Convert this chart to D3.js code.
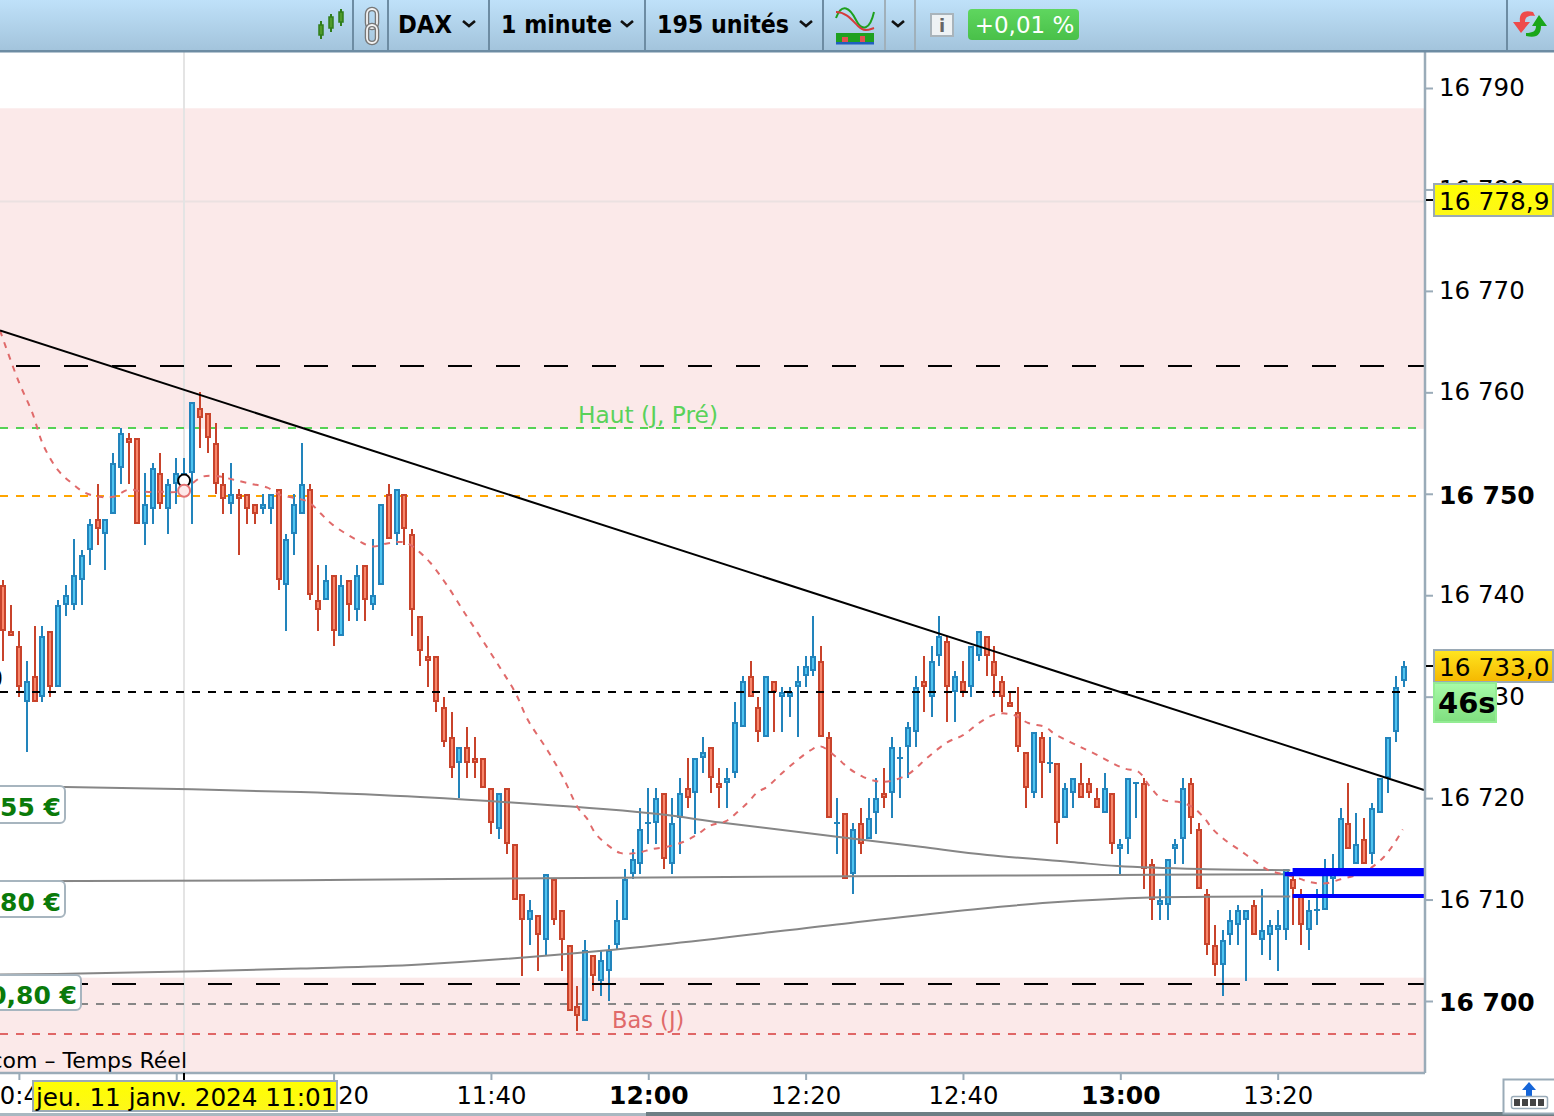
<!DOCTYPE html>
<html><head><meta charset="utf-8">
<script src="https://cdnjs.cloudflare.com/ajax/libs/d3/7.8.5/d3.min.js"></script>
<style>html,body{margin:0;padding:0;background:#fff;overflow:hidden}svg{display:block}text{font-family:"DejaVu Sans",sans-serif}</style>
</head><body><svg id="c" width="1554" height="1116"></svg>
<script>
// minutes relative to 12:00, one candle per minute
const firstMinute = -82;
const opens = [16741,16736.5,16735,16729.5,16732,16730,16736.5,16731,16739,16739,
16741.5,16744.5,16747.5,16746,16748,16752.5,16755.5,16755.5,16747,16748.5,
16752,16748.5,16751,16751,16752,16758.5,16758,16755,16751,16749,
16750,16750,16749,16748.5,16748.5,16750.5,16741,16746,16748,16750.5,
16739.5,16739.5,16742,16736,16741.5,16738.5,16743,16739,16741,16750,
16746,16750,16746,16738,16734,16734,16729,16726,16723.5,16725,
16724,16724,16721,16717,16721,16715.5,16710.5,16708,16708.5,16706,
16712,16709,16705.5,16699.5,16698,16704.5,16702,16703,16705.5,16708,
16712.5,16713.5,16717.5,16717.5,16720.5,16713.5,16718,16721,16720.5,16724,
16725,16721.5,16721.5,16722.5,16727,16732,16729,16726,16731.5,16730,
16730,16731,16732,16732.5,16733.5,16726,16717.5,16718.5,16712.5,16717.5,
16716,16718.5,16720.5,16720.5,16724,16725,16726.5,16731.5,16730,16734,
16735.5,16730.5,16731.5,16731,16734,16736,16733.5,16731.5,16729.5,16728.5,
16724.5,16720.5,16726,16723.5,16723.5,16718,16720.5,16721.5,16721.5,16720,
16718.5,16720.5,16715,16716,16721.5,16721.5,16713.5,16709.5,16709.5,16715,
16716,16721.5,16717,16710.5,16705.5,16703.5,16706.5,16707.5,16708,16709.5,
16706,16706.5,16707,16707,16712,16710.5,16707,16709,16709,16712,
16712.5,16717.5,16713.5,16716,16714.5,16718.5,16722,16726.5,16731.5];
const closes = [16736.5,16736,16731,16731.5,16729.5,16736,16731,16739,16740,16742,
16744,16747,16746.5,16747.5,16753,16756,16755,16747,16749,16752.5,
16749,16751,16752,16752,16759,16757.5,16755.5,16751,16749.5,16750,
16749.5,16748.5,16748,16749,16750,16741.5,16745.5,16749,16751,16740,
16738.5,16741.5,16736.5,16741,16739,16742,16739.5,16740,16749,16745.5,
16750.5,16746.5,16738.5,16734.5,16733.5,16729.5,16725.5,16723,16725,16723.5,
16723.5,16721,16717.5,16720.5,16715.5,16710,16708,16709,16706.5,16712.5,
16708,16706,16699,16698.5,16705,16702.5,16704,16705,16708,16712,
16714,16717,16717.5,16720,16714,16717.5,16720.5,16720,16724,16724.5,
16722,16721,16722,16727.5,16731.5,16730,16726.5,16732,16730.5,16730.5,
16730.5,16731.5,16733,16734,16726,16718,16717.5,16712,16717,16715.5,
16718,16720,16720,16725,16724,16727,16731,16731,16733.5,16736,
16731,16732,16730.5,16735,16736.5,16734,16732,16730,16729,16725,
16721,16726.5,16723.5,16723.5,16717.5,16721,16722,16720,16720.5,16719,
16721,16715.5,16715.5,16722,16721.5,16713,16710,16710,16714,16715.5,
16721,16718,16711,16705.5,16703.5,16706,16708,16709,16709,16706.5,
16707,16707.5,16707.5,16713,16711,16707.5,16709,16709,16712.5,16712.5,
16718,16715,16715.5,16713.5,16719,16722,16726,16731,16733];
const highs = [16741.5,16739,16736.5,16733.5,16737,16737,16736.5,16739.5,16741,16745.5,
16744.5,16747.5,16751,16747.5,16754,16756.5,16756,16755.5,16752,16753,
16754,16751.5,16753.5,16753.5,16759,16760,16758,16757,16752,16753,
16750.5,16750,16749,16750,16750,16750.5,16746,16750,16755,16751,
16743,16743,16742,16742,16741.5,16743,16743,16745.5,16749,16751,
16750.5,16750,16746.5,16738,16736,16734,16730,16728.5,16725,16727,
16726,16724,16721,16720.5,16721,16715.5,16710.5,16710,16708.5,16712.5,
16712,16709,16705.5,16701.5,16706,16704.5,16705,16705.5,16710,16713,
16715,16719,16721,16721,16720.5,16720,16722,16724,16724,16726,
16725,16723,16723,16729.5,16732,16733.5,16730,16732,16731.5,16731,
16731,16733,16734,16738,16735,16726.5,16720,16718.5,16717.5,16719,
16720,16722,16723,16726,16725,16727.5,16732,16734,16735,16738,
16736,16732.5,16733.5,16735,16736.5,16736,16735,16732,16730.5,16731,
16724.5,16726.5,16726.5,16726,16723.5,16721.5,16722,16723.5,16722,16721,
16722.5,16720.5,16716,16722,16721.5,16722,16714,16711,16714,16716,
16722,16722,16717.5,16711,16707.5,16707,16709,16709.5,16709,16710,
16711,16708,16709,16713,16712.5,16711,16710,16711,16714,16714.5,
16719,16721.5,16718.5,16718,16719.5,16722,16726,16732,16733.5];
const lows = [16733.5,16736,16730,16724.5,16729.5,16729.5,16730,16731,16738,16738.5,
16739,16743,16745,16742.5,16748,16751,16751,16747,16745,16747,
16748.5,16746,16749,16750,16747,16754.5,16754,16750,16748,16748,
16744,16747,16747,16748,16747,16740.5,16736.5,16744,16748,16739.5,
16736.5,16739.5,16735,16736,16737.5,16737.5,16737.5,16738.5,16741,16745.5,
16745,16745,16736,16733,16731,16728.5,16725,16722,16720,16722,
16722,16721,16716.5,16716,16714.5,16710,16702.5,16705.5,16703,16704.5,
16707.5,16703,16699,16697,16698,16701,16700.5,16700,16705,16708,
16712,16712.5,16715.5,16715.5,16713,16712.5,16714.5,16719,16716.5,16722.5,
16720.5,16719,16719,16722,16727,16730,16725.5,16726,16726.5,16726.5,
16728,16726,16731,16732,16726,16718,16714.5,16712,16710.5,16714.5,
16716,16716.5,16719,16718,16720,16722,16725,16728.5,16728,16733,
16727.5,16727.5,16730,16730,16733.5,16732,16730,16728.5,16729,16724.5,
16719,16720,16720,16722.5,16715.5,16718,16719,16720,16720,16719,
16718.5,16714.5,16712.5,16714.5,16718,16711,16708,16708,16708,16713.5,
16713.5,16716.5,16711,16704.5,16702.5,16700.5,16705.5,16705.5,16702,16706.5,
16704.5,16704,16703,16706,16707.5,16705.5,16705,16707.5,16709,16710.5,
16712.5,16715,16713.5,16713.5,16713.5,16718.5,16720.5,16725.5,16731];

// dashed red moving average (minute, price)
const maMinutes = [-82.4,-80.1,-78.3,-76.9,-75,-73.2,-71.6,-69.7,-68,-66.1,-64.2,-62,-59.9,-58.2,-56.6,-54.4,-52.8,-50.6,-48.4,-46.8,-45.1,-43.2,-41.7,-40.2,-38.5,-36.9,-35.1,-33.2,-30.9,-29,-27.7,-25.6,-23.3,-21.1,-18.8,-16.9,-15.3,-12.8,-10.8,-8.9,-7.8,-6.7,-5.2,-3.6,-1.4,0.6,2.4,4.5,6.2,7.9,9.8,11.3,12.7,13.9,15.1,17.2,20.6,21.9,23.8,25.4,27.3,29.9,32.9,35.5,38,40,42.2,44.3,46.4,48.3,50.5,51.5,53.7,55.3,57.2,59.1,60.6,62.3,63.8,65.5,67.6,69.2,70.6,71.8,73.6,75.3,76.9,78.8,80.7,82.3,84.2,86.1,88,90.3,92,93.5,94.7,95.9];
const maValues = [16766.1,16761.2,16758,16754.8,16752.3,16751,16750.1,16749.7,16749.7,16750.4,16750.2,16750.2,16750.2,16750.9,16751.7,16751.7,16751.4,16751,16750.6,16749.9,16749.6,16749.2,16748.1,16747,16746.1,16745.4,16744.8,16745.1,16745.2,16744.2,16743.2,16741,16738.2,16735.6,16732.8,16730.4,16727.7,16724.7,16722,16719,16718,16716.5,16715.4,16714.6,16714.6,16715,16715.2,16715.7,16716.4,16717.3,16717.7,16718.6,16719.6,16720.6,16721.1,16722.6,16724.7,16725.1,16724.1,16723,16722.1,16721.6,16722.3,16724,16725.5,16726.2,16727.5,16728.3,16728.2,16727.4,16727,16726.4,16725.5,16724.9,16724.2,16723.4,16722.9,16722.6,16721.1,16719.8,16719.6,16719.1,16718.1,16716.9,16715.7,16714.8,16713.9,16712.9,16712.5,16712.2,16711.7,16711.6,16712,16712.5,16713.2,16714.2,16715.4,16716.9];

// black trend line
const trendMinutes = [-82.4, 98.6];
const trendValues = [16766.1, 16720.8];

// three grey curves
const greyAMinutes = [-82.4,-74.1,-44.2,-29,0.3,9.2,24,34.6,43.1,53.7,59.6,70.2,81.6];
const greyAValues = [16721.2,16721.1,16720.6,16720.1,16718.5,16717.6,16716.2,16715.2,16714.4,16713.7,16713.3,16713,16712.9];
const greyBMinutes = [-82.4,-44.2,-29,25.7,53.7,80.7];
const greyBValues = [16711.8,16711.9,16712,16712.3,16712.4,16712.5];
const greyCMinutes = [-82.4,-72.2,-44.2,-29,-5.2,25.7,42.2,51.1,63.8,81.6];
const greyCValues = [16702.6,16702.7,16703.2,16703.6,16705,16707.7,16709.1,16709.7,16710.2,16710.3];

// blue level extensions
const blueLevels = [{p:16712.9,m:81.9},{p:16712.5,m:80.9},{p:16710.35,m:81.9}];

// horizontal levels
const shortDashLevels = [
 {p:16756.5,c:"#55d255"},{p:16749.8,c:"#ffa500"},{p:16730.5,c:"#000"},{p:16699.7,c:"#868686"},{p:16696.7,c:"#e06666"}];
const longDashLevels = [16762.6,16701.7];
const crossPrice = 16778.9;
const zoneA = [16756.4,16788];
const zoneB = [16691.8,16702.3];

const yTicks = [16790,16780,16770,16760,16750,16740,16730,16720,16710,16700];
const yBold = [16750,16700];
const xTicks = [-80,-60,-40,-20,0,20,40,60,80];
const xTickLabels = ["10:40","11:00","11:20","11:40","12:00","12:20","12:40","13:00","13:20"];
const xBold = [0,60];
const crossMinute = -59;
const crossBlack = 16751.3, crossRed = 16750.3;

const svg = d3.select("#c");
const W=1554,H=1116,axX=1425,axY=1073;
const x = d3.scaleLinear().domain([-82.4,98.6]).range([0,1424]);
const y = d3.scaleLinear().domain([16700,16790]).range([1001,88]);
const defs = svg.append("defs");
function grad(id,stops){const g=defs.append("linearGradient").attr("id",id).attr("x1",0).attr("x2",0).attr("y1",0).attr("y2",1);
 stops.forEach(([o,c])=>g.append("stop").attr("offset",o).attr("stop-color",c));}
grad("tb",[[0,"#bfe1f9"],[1,"#a3c4dc"]]);
grad("yel",[[0,"#ffff00"],[1,"#fdf71a"]]);
grad("ora",[[0,"#ffe620"],[1,"#f5b700"]]);
grad("grn",[[0,"#a8fba8"],[1,"#7fde7f"]]);
grad("badge",[[0,"#5fd65f"],[1,"#49c049"]]);
defs.append("clipPath").attr("id","plot").append("rect").attr("x",0).attr("y",52).attr("width",axX).attr("height",axY-52);

svg.append("rect").attr("width",W).attr("height",H).attr("fill","#fff");
const plot = svg.append("g").attr("clip-path","url(#plot)");
// zones
[zoneA,zoneB].forEach(z=>plot.append("rect").attr("x",0).attr("width",axX).attr("y",y(z[1])).attr("height",y(z[0])-y(z[1])).attr("fill","#fbe9e9"));
plot.append("line").attr("x1",0).attr("x2",axX).attr("y1",y(crossPrice)+1).attr("y2",y(crossPrice)+1).attr("stroke","#ebe1e1").attr("stroke-width",2);
plot.append("line").attr("x1",184).attr("x2",184).attr("y1",52).attr("y2",axY).attr("stroke","#e4e4e4").attr("stroke-width",2);

// levels behind candles
shortDashLevels.forEach(l=>{ if(l.c!=="#000") plot.append("line").attr("x1",0).attr("x2",axX).attr("y1",Math.round(y(l.p))).attr("y2",Math.round(y(l.p))).attr("stroke",l.c).attr("stroke-width",2).attr("stroke-dasharray","8 8");});

// candles
const candles = opens.map((o,i)=>({t:firstMinute+i,o,c:closes[i],h:highs[i],l:lows[i]}));
const up = d=>d.c>=d.o;
const g = plot.append("g");
g.selectAll("line.w").data(candles).join("line").attr("class","w")
 .attr("x1",d=>Math.round(x(d.t))).attr("x2",d=>Math.round(x(d.t)))
 .attr("y1",d=>Math.round(y(d.h))).attr("y2",d=>Math.round(y(d.l)))
 .attr("stroke",d=>up(d)?"#2284bc":"#c8432b").attr("stroke-width",2);
g.selectAll("rect.b").data(candles).join("rect").attr("class","b")
 .attr("x",d=>Math.round(x(d.t))-(d.o===d.c?3:2))
 .attr("width",d=>d.o===d.c?6:4)
 .attr("y",d=>d.o===d.c?Math.round(y(d.o))-1:Math.round(y(Math.max(d.o,d.c)))+1)
 .attr("height",d=>d.o===d.c?2:Math.max(1,Math.round(y(Math.min(d.o,d.c)))-Math.round(y(Math.max(d.o,d.c)))-2))
 .attr("fill",d=>d.o===d.c?"#2284bc":(up(d)?"#4fc4f0":"#f8866a"))
 .attr("stroke",d=>up(d)?"#2284bc":"#c8432b").attr("stroke-width",d=>d.o===d.c?0:2);

// black dashed level, long dashes
shortDashLevels.filter(l=>l.c==="#000").forEach(l=>plot.append("line").attr("x1",0).attr("x2",axX).attr("y1",Math.round(y(l.p))).attr("y2",Math.round(y(l.p))).attr("stroke","#000").attr("stroke-width",2).attr("stroke-dasharray","8 8"));
longDashLevels.forEach(p=>plot.append("line").attr("x1",16).attr("x2",axX).attr("y1",Math.round(y(p))).attr("y2",Math.round(y(p))).attr("stroke","#000").attr("stroke-width",2).attr("stroke-dasharray","24 24"));

// curves
const ln = d3.line().x(d=>x(d[0])).y(d=>y(d[1]));
const curve = (ms,vs,c,w,dash,cv)=>plot.append("path").attr("d",ln.curve(cv||d3.curveCatmullRom)(ms.map((m,i)=>[m,vs[i]]))).attr("fill","none").attr("stroke",c).attr("stroke-width",w).attr("stroke-dasharray",dash||null);
curve(greyAMinutes,greyAValues,"#868686",2);
curve(greyBMinutes,greyBValues,"#868686",2);
curve(greyCMinutes,greyCValues,"#868686",2);
curve(maMinutes,maValues,"#e06a6a",2,"6 6.5");
curve(trendMinutes,trendValues,"#000",2,null,d3.curveLinear);

// blue bars
blueLevels.forEach(b=>plot.append("line").attr("x1",x(b.m)).attr("x2",axX).attr("y1",y(b.p)).attr("y2",y(b.p)).attr("stroke","#0000ff").attr("stroke-width",4.2));

// crosshair circles
[[crossBlack,"#000"],[crossRed,"#e57373"]].forEach(([p,c])=>plot.append("circle").attr("cx",x(crossMinute)).attr("cy",y(p)).attr("r",6).attr("fill",c==="#000"?"#fff":"#fde9e9").attr("stroke",c).attr("stroke-width",2));

// chart labels
const txt=(p,xx,yy,s,o={})=>{const t=p.append("text").attr("x",xx).attr("y",yy).attr("dominant-baseline","central").attr("font-size",o.size||24).attr("font-weight",o.w||"normal").attr("fill",o.fill||"#000").attr("text-anchor",o.a||"start").text(s);
 if(o.len)t.attr("textLength",o.len).attr("lengthAdjust","spacingAndGlyphs");return t;};
txt(plot,578,414,"Haut (J, Pré)",{fill:"#5ad25a",size:23.3});
txt(plot,612,1020,"Bas (J)",{fill:"#e06a6a",size:22.5});
txt(plot,187,1060,"com – Temps Réel",{a:"end",size:22});
txt(plot,3,679,"0",{a:"end"});

// left price tags
[[786,823,65,",55 €"],[881,917,65,",80 €"],[975,1010,81,"0,80 €"]].forEach(([t,b,r,s])=>{
 plot.append("rect").attr("x",-12).attr("y",t).attr("width",r+12).attr("height",b-t).attr("rx",5).attr("fill","#fff").attr("stroke","#a7b5bf").attr("stroke-width",2);
 txt(plot,r-4,(t+b)/2+3,s,{a:"end",w:"bold",fill:"#0a7a0a",size:25});
});

// y axis
const yAxis = d3.axisRight(y).tickValues(yTicks).tickSize(8).tickPadding(6).tickFormat(d=>d3.format("d")(d).replace(/^(\d\d)/,"$1 "));
const gy = svg.append("g").attr("transform",`translate(${axX},0)`).call(yAxis);
gy.select(".domain").attr("d",`M0,52V${axY}`).attr("stroke","#9aabb8").attr("stroke-width",2.5);
gy.selectAll(".tick line").attr("stroke","#9aabb8").attr("stroke-width",2);
gy.selectAll(".tick text").attr("font-family","DejaVu Sans").attr("font-size",d=>yBold.includes(d)?25:24.5).attr("fill","#000")
  .attr("font-weight",d=>yBold.includes(d)?"bold":"normal").attr("dy",d=>yBold.includes(d)?"0.38em":"0.31em");

// x axis
const xAxis = d3.axisBottom(x).tickValues(xTicks).tickSize(7).tickPadding(6).tickFormat((d,i)=>xTickLabels[i]);
const gx = svg.append("g").attr("transform",`translate(0,${axY})`).call(xAxis);
gx.select(".domain").attr("d",`M0,0H${axX}`).attr("stroke","#9aabb8").attr("stroke-width",2.5);
gx.selectAll(".tick line").attr("stroke","#9aabb8").attr("stroke-width",2);
gx.selectAll(".tick text").attr("font-family","DejaVu Sans").attr("font-size",d=>xBold.includes(d)?25:24.3).attr("fill","#000")
  .attr("font-weight",d=>xBold.includes(d)?"bold":"normal").attr("y",31).attr("dy","0");
svg.append("line").attr("x1",184).attr("x2",184).attr("y1",axY).attr("y2",axY+7).attr("stroke","#000").attr("stroke-width",2);

// right price boxes
svg.append("line").attr("x1",1426).attr("x2",1433).attr("y1",200).attr("y2",200).attr("stroke","#000").attr("stroke-width",2);
svg.append("line").attr("x1",1426).attr("x2",1433).attr("y1",666).attr("y2",666).attr("stroke","#000").attr("stroke-width",2);
const box=(x0,y0,w,h,f,st)=>svg.append("rect").attr("x",x0).attr("y",y0).attr("width",w).attr("height",h).attr("fill",f).attr("stroke",st).attr("stroke-width",2);
box(1434,184,119,32,"url(#yel)","#9aa9b5");
txt(svg,1439,201,"16 778,9",{size:24.8});
box(1434,650,119,32,"url(#ora)","#9aa9b5");
txt(svg,1439,667,"16 733,0",{size:24.8});
box(1434,683,62,39,"url(#grn)","#93ec93");
txt(svg,1438,703,"46s",{w:"bold",size:29});

// date box
box(33,1081,304,30,"url(#yel)","#9aa9b5");
txt(svg,36,1097,"jeu. 11 janv. 2024 11:01",{size:24.7});

// bottom strip & right button
svg.append("rect").attr("x",0).attr("y",1113).attr("width",646).attr("height",3).attr("fill","#a9b8c1");
svg.append("rect").attr("x",646).attr("y",1112).attr("width",908).attr("height",4).attr("fill","#6e7e84");
svg.append("rect").attr("x",1503.5).attr("y",1079.5).attr("width",52).attr("height",34).attr("fill","#fff").attr("stroke","#9aabb8").attr("stroke-width",2);
svg.append("path").attr("d","M1529 1082l7 8h-4v6h-6v-6h-4z").attr("fill","#1565d8");
svg.append("rect").attr("x",1511.5).attr("y",1096.5).attr("width",36).attr("height",12).attr("rx",2).attr("fill","#fff").attr("stroke","#9aabb8").attr("stroke-width",1.5);
[1514,1522,1530,1538].forEach(v=>svg.append("rect").attr("x",v).attr("y",1099).attr("width",6).attr("height",7).attr("fill","#444"));

// toolbar
const tb=svg.append("g");
tb.append("rect").attr("width",W).attr("height",50).attr("fill","url(#tb)");
tb.append("rect").attr("y",50).attr("width",W).attr("height",2.5).attr("fill","#6d8ca3");
[352,387,488,644,822,884,914,1506].forEach(v=>tb.append("rect").attr("x",v).attr("y",0).attr("width",2).attr("height",50).attr("fill",v===884||v===914?"#a0b0ba":"#6d8ca3"));
// candle icon
[[321,21,39,25,35],[331,14,32,17,28],[341,9,26,12,22]].forEach(([a,t,b,t2,b2])=>{
 tb.append("line").attr("x1",a).attr("x2",a).attr("y1",t).attr("y2",b).attr("stroke","#2f7d1a").attr("stroke-width",2);
 tb.append("rect").attr("x",a-2).attr("y",t2).attr("width",4).attr("height",b2-t2).attr("fill","#4f9a2a").attr("stroke","#2f7d1a").attr("stroke-width",1.5);
});
// chain icon
[[367,9,10,19],[367,25,10,18]].forEach(([a,b,w,h])=>{
 tb.append("rect").attr("x",a).attr("y",b).attr("width",w).attr("height",h).attr("rx",5).attr("fill","none").attr("stroke","#777").attr("stroke-width",4.5);
 tb.append("rect").attr("x",a).attr("y",b).attr("width",w).attr("height",h).attr("rx",5).attr("fill","none").attr("stroke","#f4f4f4").attr("stroke-width",1.8);
});
// toolbar text
txt(tb,398,25,"DAX",{w:"bold",size:24,len:54});
txt(tb,501,25,"1 minute",{w:"bold",size:24,len:111});
txt(tb,657,25,"195 unités",{w:"bold",size:24,len:132});
[[463,21],[621,21],[800,21],[892,21]].forEach(([a,b])=>tb.append("path").attr("d",`M${a} ${b}l6 5 6-5`).attr("fill","none").attr("stroke","#111").attr("stroke-width",2.6));
// indicators icon
tb.append("path").attr("d","M836 18C842 2 850 8 856 20S870 30 874 12").attr("fill","none").attr("stroke","#1ea01e").attr("stroke-width",2);
tb.append("path").attr("d","M836 12C846 12 852 20 858 26S868 30 874 28").attr("fill","none").attr("stroke","#d63b3b").attr("stroke-width",2);
tb.append("rect").attr("x",836).attr("y",33).attr("width",38).attr("height",9).attr("fill","#1fa01f");
tb.append("rect").attr("x",842).attr("y",37).attr("width",6).attr("height",5).attr("fill","#e25050");
tb.append("rect").attr("x",860).attr("y",36).attr("width",5).attr("height",6).attr("fill","#e25050");
tb.append("rect").attr("x",836).attr("y",42).attr("width",38).attr("height",2.5).attr("fill","#1f5fc0");
// info icon
tb.append("rect").attr("x",931).attr("y",14).attr("width",22).attr("height",22).attr("fill","#eef2f4").attr("stroke","#a9b4bb").attr("stroke-width",2);
txt(tb,942,25,"i",{a:"middle",w:"bold",fill:"#666",size:18});
// badge
tb.append("rect").attr("x",968).attr("y",9).attr("width",111).attr("height",31).attr("rx",4).attr("fill","url(#badge)");
txt(tb,1024.5,25,"+0,01 %",{a:"middle",fill:"#fff",size:23});
// refresh arrows
tb.append("path").attr("d","M1533 12C1522 9 1519 15 1520 22L1513 22L1521 33L1530 22L1525 22C1525 17 1528 15 1535 16Z").attr("fill","#ee4b4b");
tb.append("path").attr("d","M1526 36C1538 39 1541 33 1541 26L1547 26L1539 15L1532 26L1536 26C1536 31 1533 33 1526 33Z").attr("fill","#19a619");
</script></body></html>
